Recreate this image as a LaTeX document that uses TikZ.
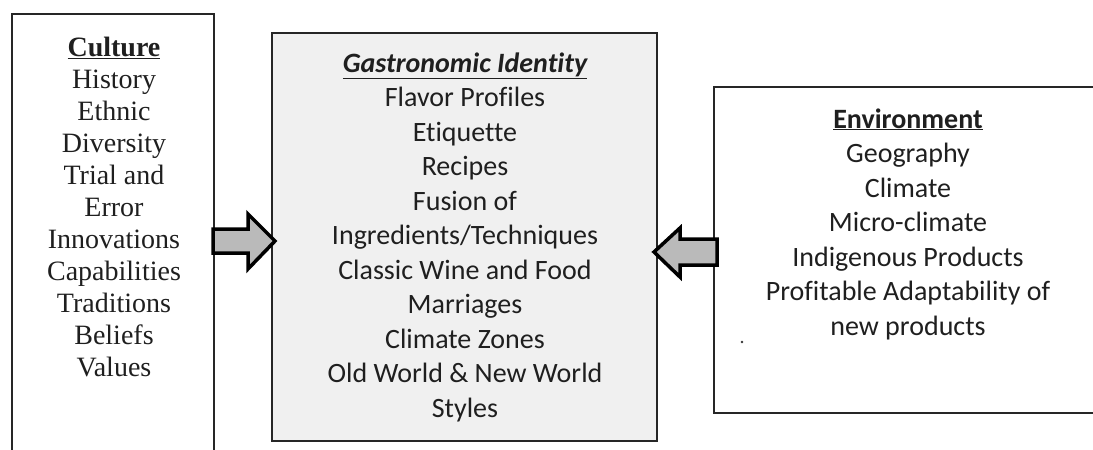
\documentclass[tikz,border=0pt]{standalone}
\usepackage{fontspec}
\setmainfont[Ligatures=CommonOff]{Carlito}
\newfontfamily\timesfont{Liberation Serif}
\begin{document}
\begin{tikzpicture}[x=1pt,y=-1pt,
  boxline/.style={draw=black!85,line width=2pt},
  blockarrow/.style={draw=black,line width=3.5pt,fill=black!27,line join=miter},
  txt/.style={align=center,text=black!88,inner sep=0pt}]
\useasboundingbox (0,0) rectangle (1093,450);
% boxes
\draw[boxline] (12,452) -- (12,14) -- (214,14) -- (214,452);
\draw[boxline,fill=black!6] (272,33) rectangle (657,441);
\draw[boxline] (1095,87) -- (714,87) -- (714,413) -- (1095,413);
% texts
\node[txt,font=\timesfont\fontsize{28}{32}\selectfont] (cul) at (114,207)
  {\textbf{\underline{Culture}}\\History\\Ethnic\\Diversity\\Trial and\\Error\\Innovations\\Capabilities\\Traditions\\Beliefs\\Values};
\node[txt,font=\fontsize{28}{34.5}\selectfont] (gas) at (465,237)
  {\textbf{\textit{\underline{Gastronomic Identity}}}\\Flavor Profiles\\Etiquette\\Recipes\\Fusion of\\Ingredients/Techniques\\Classic Wine and Food\\Marriages\\Climate Zones\\Old World \& New World\\Styles};
\node[txt,font=\fontsize{28}{34.5}\selectfont] (env) at (908,224)
  {\textbf{\underline{Environment}}\\Geography\\Climate\\Micro-climate\\Indigenous Products\\Profitable Adaptability of\\new products};
\fill[black!80] (742,342) circle (1.3);
% block arrows
\draw[blockarrow] (213,229) -- (248,229) -- (248,214) -- (275,241) -- (248,269) -- (248,253) -- (213,253) -- cycle;
\draw[blockarrow] (717,239) -- (680,239) -- (680,228) -- (654,252) -- (680,277) -- (680,265) -- (717,265) -- cycle;
\end{tikzpicture}
\end{document}
